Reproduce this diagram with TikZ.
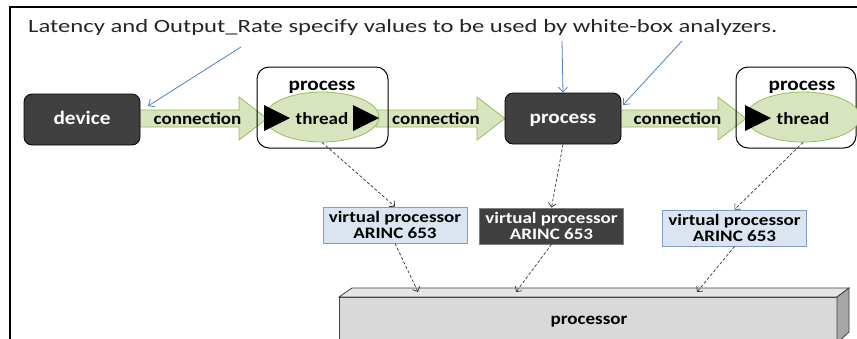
\documentclass[tikz,border=0pt]{standalone}
\usepackage{fontspec}
\setmainfont{Carlito}
\usetikzlibrary{arrows.meta,calc,shapes.geometric}
\definecolor{dark}{HTML}{404040}
\definecolor{greenfill}{HTML}{D7E4BD}
\definecolor{greenline}{HTML}{9BBB59}
\definecolor{vpfill}{HTML}{DBE5F1}
\definecolor{vpline}{HTML}{7F9DC8}
\definecolor{blueline}{HTML}{4F81BD}
\definecolor{titlecol}{HTML}{262626}
\definecolor{procfront}{HTML}{D9D9D9}
\definecolor{proctop}{HTML}{E6E6E6}
\definecolor{procside}{HTML}{A6A6A6}
\newcommand\sxt[1]{\scalebox{1.12}[1]{#1}}
\newcommand\sxv[1]{\scalebox{1.19}[1]{#1}}
\begin{document}
\begin{tikzpicture}[x=1pt,y=-1pt,
  bigfont/.style={font=\fontsize{19}{19}\selectfont\bfseries},
  smallfont/.style={font=\fontsize{17}{15}\selectfont\bfseries},
  vpfont/.style={font=\fontsize{16}{16}\selectfont\bfseries},
  darkbox/.style={draw=black, fill=dark, rounded corners=8pt, text=white, bigfont,
    minimum width=116pt, minimum height=51pt, inner sep=0pt, line width=0.8pt,
    text height=9pt, text depth=0pt},
  procbox/.style={draw=black, rounded corners=12pt, line width=1pt, inner sep=0pt, minimum height=81pt},
  threadshape/.style={ellipse, draw=greenline, fill=greenfill, minimum width=114pt,
    minimum height=50pt, inner sep=0pt, smallfont, line width=0.8pt,
    text height=14pt, text depth=0pt},
  blockarrow/.style={fill=greenfill, draw=greenline, line width=0.8pt},
  vpbox/.style={draw=vpline, fill=vpfill, minimum width=144pt, minimum height=36pt,
    inner sep=0pt, align=center, vpfont, line width=0.8pt},
  vpdark/.style={vpbox, draw=gray, fill=dark, text=white},
  dasharrow/.style={draw=black!80, dash pattern=on 3pt off 2pt, line width=0.7pt,
    -{Straight Barb[length=4pt,width=8pt]}},
  bluearrow/.style={draw=blueline, line width=0.8pt, -{Straight Barb[length=5pt,width=9pt]}},
  tri/.style={fill=black}
]
\useasboundingbox (0,0) rectangle (857,338);
\clip (0,0) rectangle (857,338);
\fill[white] (0,0) rectangle (857,338);
% frame
\draw[line width=1.6pt] (10,342) -- (10,7) -- (862,7);
% title
\node[anchor=base west, inner sep=0pt, text=titlecol] (title) at (28,32)
  {\resizebox{749pt}{13pt}{Latency and Output\_Rate specify values to be used by white-box analyzers.}};
% block arrows (connections)
\path[blockarrow] (136,110) -- (239,110) -- (239,97) -- (267,118.5) -- (239,140) -- (239,127) -- (136,127) -- cycle;
\path[blockarrow] (376,110) -- (477,110) -- (477,97) -- (505,118.5) -- (477,140) -- (477,127) -- (376,127) -- cycle;
\path[blockarrow] (617,110) -- (718,110) -- (718,97) -- (746,118.5) -- (718,140) -- (718,127) -- (617,127) -- cycle;
\node[smallfont, anchor=base, inner sep=0pt] (conn1) at (197.5,124) {\sxt{connection}};
\node[smallfont, anchor=base, inner sep=0pt] (conn2) at (436,124) {\sxt{connection}};
\node[smallfont, anchor=base, inner sep=0pt] (conn3) at (677.5,124) {\sxt{connection}};
% device and process
\node[darkbox] (device) at (82,119.5) {\sxt{device}};
\node[darkbox] (pdark) at (563,118.5) {\sxt{process}};
% process box 1 with thread
\node[procbox, minimum width=131pt] (p1) at (322.5,107.5) {};
\node[bigfont, anchor=base, inner sep=0pt] (p1lab) at (322,90) {\sxt{process}};
\node[threadshape] (t1) at (322,117) {\sxt{thread}};
\fill[tri] (264,105) -- (290,118) -- (264,131) -- cycle;
\fill[tri] (353,105) -- (379,118) -- (353,131) -- cycle;
% process box 3 with thread
\node[procbox, minimum width=120pt] (p3) at (796,107.5) {};
\node[bigfont, anchor=base, inner sep=0pt] (p3lab) at (802,90) {\sxt{process}};
\node[threadshape] (t3) at (803,117) {\sxt{thread}};
\fill[tri] (745,105) -- (771,118) -- (745,131) -- cycle;
% virtual processors
\node[vpbox] (vp1) at (395,225) {\sxv{virtual\ processor}\\\sxv{ARINC 653}};
\node[vpdark] (vp2) at (551.5,226) {\sxv{virtual\ processor}\\\sxv{ARINC 653}};
\node[vpbox] (vp3) at (734.5,228) {\sxv{virtual\ processor}\\\sxv{ARINC 653}};
% processor (3D)
\filldraw[fill=procfront, draw=dark, line width=0.8pt] (339,297) rectangle (837,343);
\filldraw[fill=proctop, draw=dark, line width=0.8pt] (339,297) -- (352,288) -- (849,288) -- (837,297) -- cycle;
\filldraw[fill=procside, draw=dark, line width=0.8pt] (837,297) -- (849,288) -- (849,332) -- (837,343) -- cycle;
\node[smallfont, anchor=base, inner sep=0pt] (proc) at (589,324) {\sxt{processor}};
\coordinate (pin1) at (418,292);
\coordinate (pin2) at (516,292);
\coordinate (pin3) at (697,292);
% dashed bindings
\draw[dasharrow] (t1.south) -- (vp1.north);
\draw[dasharrow] (pdark.south) -- (vp2.north);
\draw[dasharrow] (t3.south) -- (vp3.north);
\draw[dasharrow] (vp1.south) -- (pin1);
\draw[dasharrow] (vp2.south) -- (pin2);
\draw[dasharrow] (vp3.south) -- (pin3);
% blue annotation arrows
\coordinate (b1) at (241,47);
\coordinate (b2) at (562,41);
\coordinate (b3) at (682,41);
\coordinate (e1) at (148,106);
\coordinate (e3) at (623,105);
\draw[bluearrow] (b1) -- (e1);
\draw[bluearrow] (b2) -- (pdark.north);
\draw[bluearrow] (b3) -- (e3);
\end{tikzpicture}
\end{document}
